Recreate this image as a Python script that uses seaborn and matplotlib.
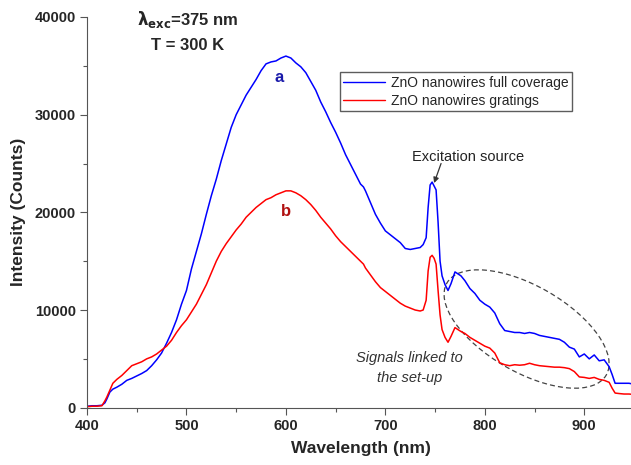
import numpy as np
import pandas as pd
import seaborn as sns
import matplotlib
matplotlib.use("Agg")
import matplotlib.pyplot as plt
from matplotlib.patches import Ellipse
from matplotlib.transforms import ScaledTranslation

# Photoluminescence spectra (wavelength in nm, intensity in counts)
wavelength = [400, 405, 410, 415, 418, 420, 423, 426, 430, 435, 440, 445, 450, 455, 460,
              465, 470, 475, 480, 485, 490, 495, 500, 505, 510, 515, 520, 525, 530, 535,
              540, 545, 550, 555, 560, 565, 570, 575, 580, 585, 590, 595, 600, 605, 610,
              615, 620, 625, 630, 635, 640, 645, 650, 655, 660, 665, 670, 675, 678, 680,
              685, 690, 695, 700, 705, 710, 715, 720, 725, 730, 735, 738, 741, 743, 745,
              747, 749, 751, 753, 755, 757, 760, 763, 766, 770, 773, 776, 780, 785, 790,
              795, 800, 805, 810, 815, 820, 825, 830, 835, 840, 845, 850, 855, 860, 865,
              870, 875, 880, 885, 890, 895, 900, 905, 910, 915, 920, 925, 928, 931, 935,
              940, 945, 950]

full_coverage = [150, 200, 200, 250, 500, 900, 1600, 1900, 2100, 2400, 2800, 3000, 3250, 3500, 3800,
                 4300, 4900, 5600, 6600, 7700, 9000, 10600, 12000, 14200, 16000, 17800, 19800, 21700, 23400, 25300,
                 27000, 28700, 30000, 31000, 32000, 32800, 33600, 34500, 35200, 35400, 35500, 35800, 36000, 35800, 35300,
                 34900, 34300, 33400, 32500, 31300, 30300, 29200, 28200, 27100, 25900, 24900, 23900, 22900, 22600, 22200,
                 21000, 19800, 18900, 18100, 17700, 17300, 16900, 16300, 16200, 16300, 16400, 16700, 17400, 20500, 22800,
                 23100, 22700, 22300, 19000, 15000, 13500, 12600, 12000, 12700, 13900, 13700, 13500, 13000, 12200, 11700,
                 11000, 10600, 10300, 9700, 8600, 7900, 7800, 7700, 7700, 7600, 7700, 7600, 7400, 7300, 7200,
                 7100, 7000, 6700, 6200, 6000, 5200, 5500, 5000, 5400, 4800, 4900, 4200, 3400, 2500, 2500,
                 2500, 2500, 2400]

gratings = [100, 150, 150, 200, 700, 1100, 1800, 2500, 2900, 3300, 3800, 4300, 4500, 4700, 5000,
            5200, 5500, 5900, 6300, 6900, 7700, 8400, 9000, 9800, 10600, 11600, 12600, 13800, 15000, 16000,
            16800, 17500, 18200, 18800, 19500, 20000, 20500, 20900, 21300, 21500, 21800, 22000, 22200, 22200, 22000,
            21700, 21300, 20800, 20200, 19500, 18900, 18300, 17600, 17000, 16500, 16000, 15500, 15000, 14700, 14300,
            13600, 12900, 12300, 11900, 11500, 11100, 10700, 10400, 10200, 10000, 9900, 10000, 11000, 14000, 15400,
            15600, 15300, 14700, 12000, 9500, 8000, 7200, 6700, 7300, 8200, 8000, 7800, 7600, 7200, 6900,
            6600, 6300, 6100, 5600, 4600, 4400, 4300, 4400, 4350, 4400, 4550, 4400, 4300, 4250, 4200,
            4150, 4150, 4100, 4000, 3700, 3150, 3100, 3000, 3100, 2900, 2800, 2600, 2000, 1500, 1450,
            1400, 1400, 1350]

series_names = ["ZnO nanowires full coverage", "ZnO nanowires gratings"]
x_ticks = [400, 500, 600, 700, 800, 900]
y_ticks = [0, 10000, 20000, 30000, 40000]

df = pd.DataFrame({
    "Wavelength": wavelength * 2,
    "Intensity": full_coverage + gratings,
    "Sample": [series_names[0]] * len(wavelength) + [series_names[1]] * len(wavelength),
})

sns.set_style("ticks")
plt.rcParams["font.family"] = ["Liberation Sans", "DejaVu Sans"]

fig = plt.figure(figsize=(6.31, 4.65), dpi=100)
ax = fig.add_axes([87 / 631, 57.3 / 465, 547 / 631, 390.7 / 465])

sns.lineplot(data=df, x="Wavelength", y="Intensity", hue="Sample",
             palette=["#0000ff", "#ff0000"], linewidth=1.1, ax=ax, legend=False)

ax.set_xlim(400, 950)
ax.set_ylim(0, 40000)
ax.set_xticks(x_ticks)
ax.set_yticks(y_ticks)
ax.set_xticks(np.arange(450, 950, 100), minor=True)
ax.set_yticks(np.arange(5000, 40000, 10000), minor=True)
ax.tick_params(axis="both", which="major", direction="out", length=5, width=0.8,
               color="#555555", labelsize=10.5, pad=3)
ax.tick_params(axis="both", which="minor", direction="out", length=3, width=0.8,
               color="#555555")
for lbl in ax.get_xticklabels() + ax.get_yticklabels():
    lbl.set_fontweight("bold")

for side in ["top", "right"]:
    ax.spines[side].set_visible(False)
for side in ["left", "bottom"]:
    ax.spines[side].set_color("#555555")
    ax.spines[side].set_linewidth(0.8)

ax.set_xlabel("Wavelength (nm)", fontsize=12.5, fontweight="bold", labelpad=6)
ax.set_ylabel("Intensity (Counts)", fontsize=12.5, fontweight="bold", labelpad=6)

# Legend
handles = [plt.Line2D([], [], color="#0000ff", lw=1.0),
           plt.Line2D([], [], color="#ff0000", lw=1.0)]
leg = ax.legend(handles, series_names, loc="upper left", bbox_to_anchor=(0.4625, 0.859),
                borderaxespad=0, fontsize=10, handlelength=3.0, handletextpad=0.4,
                labelspacing=0.3, borderpad=0.25, fancybox=False, frameon=True)
leg.get_frame().set_edgecolor("#333333")
leg.get_frame().set_linewidth(1.0)

# Measurement conditions
fig.text(188 / 631, 1 - 20 / 465, r"$\mathbf{\lambda_{exc}}$=375 nm", ha="center", va="center",
         fontsize=12, fontweight="bold")
fig.text(188 / 631, 1 - 45 / 465, "T = 300 K", ha="center", va="center",
         fontsize=12, fontweight="bold")

# Curve labels
ax.text(593, 33800, "a", color="#1a1aaa", fontsize=12, fontweight="bold",
        ha="center", va="center")
ax.text(600, 20100, "b", color="#b01010", fontsize=12, fontweight="bold",
        ha="center", va="center")

# Excitation source annotation
ax.text(783, 25650, "Excitation source", fontsize=10.5, color="#222222",
        ha="center", va="center")
ax.annotate("", xy=(749, 23000), xytext=(756, 25000),
            arrowprops=dict(arrowstyle="-|>", color="#333333", lw=0.9,
                            shrinkA=0, shrinkB=0, mutation_scale=8))

# Set-up related features
ax.text(724, 4060, "Signals linked to\nthe set-up", fontsize=10.5, style="italic",
        color="#333333", ha="center", va="center", linespacing=1.55)
ell = Ellipse((0, 0), 184 / 100, 86 / 100, angle=-30, fill=False,
              edgecolor="#444444", linestyle=(0, (4, 2.5)), linewidth=0.9,
              transform=fig.dpi_scale_trans + ScaledTranslation(842, 8055, ax.transData))
ax.add_patch(ell)

fig.savefig("out.png", dpi=100)
